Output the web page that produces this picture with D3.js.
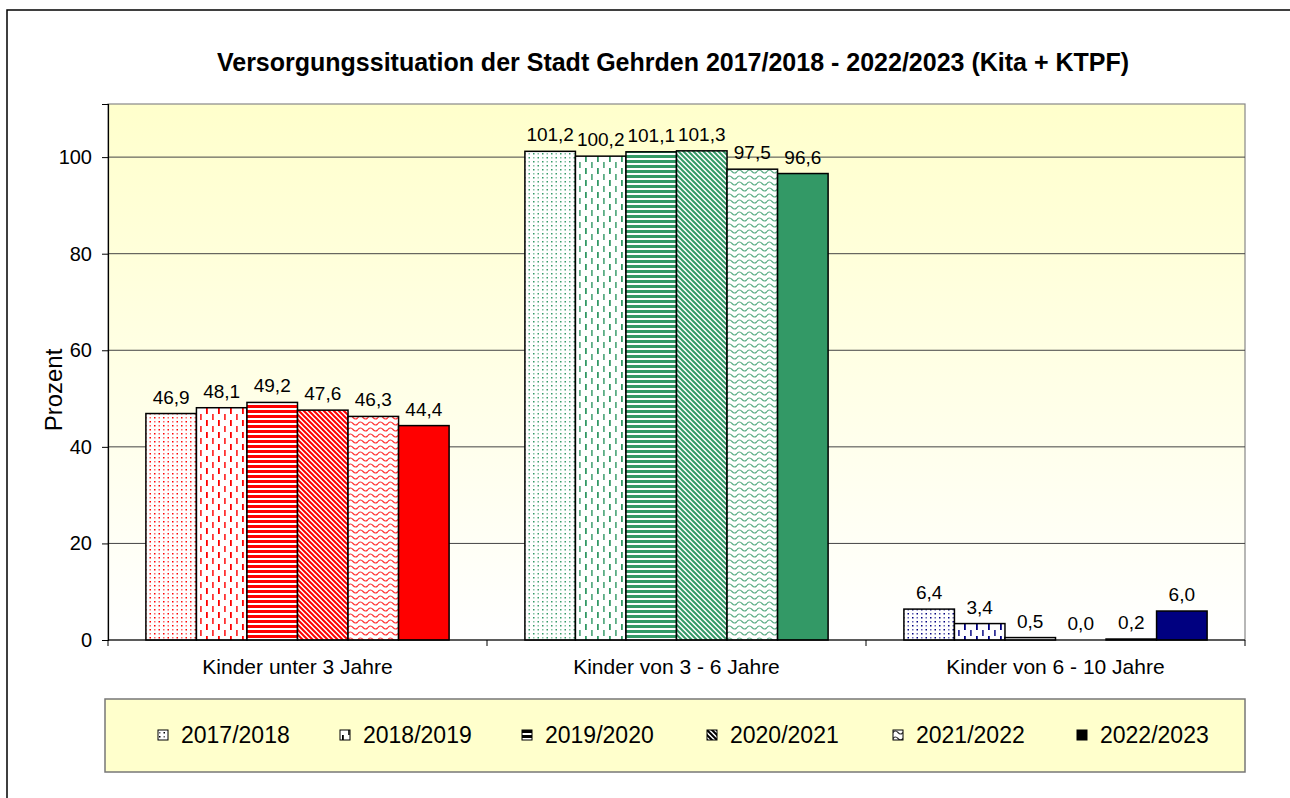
<!DOCTYPE html>
<html><head><meta charset="utf-8">
<script src="https://cdn.jsdelivr.net/npm/d3@7"></script>
<style>body{margin:0;background:#fff}svg{display:block;font-family:"Liberation Sans",Arial,sans-serif}</style>
</head><body><svg id="c" width="1290" height="798"></svg>
<script>
const categories = ["Kinder unter 3 Jahre", "Kinder von 3 - 6 Jahre", "Kinder von 6 - 10 Jahre"];
const seriesNames = ["2017/2018", "2018/2019", "2019/2020", "2020/2021", "2021/2022", "2022/2023"];
const values2017 = [46.9, 101.2, 6.4];
const values2018 = [48.1, 100.2, 3.4];
const values2019 = [49.2, 101.1, 0.5];
const values2020 = [47.6, 101.3, 0.0];
const values2021 = [46.3, 97.5, 0.2];
const values2022 = [44.4, 96.6, 6.0];
const yTicks = [0, 20, 40, 60, 80, 100];
const categoryColors = ["#FF0000", "#339966", "#000080"];
const patternTypes = ["dots", "vdash", "hstripe", "diag", "wave", "solid"];
const titleText = "Versorgungssituation der Stadt Gehrden 2017/2018 - 2022/2023 (Kita + KTPF)";
const yTitle = "Prozent";

const seriesValues = [values2017, values2018, values2019, values2020, values2021, values2022];
const svg = d3.select("#c");
const defs = svg.append("defs");
const L = 108, R = 1245, T = 104, B = 640;

const grad = defs.append("linearGradient").attr("id","bg").attr("x1",0).attr("y1",0).attr("x2",0).attr("y2",1);
grad.append("stop").attr("offset","0%").attr("stop-color","#FFFFCC");
grad.append("stop").attr("offset","100%").attr("stop-color","#FFFFFF");

function makePattern(id, type, color) {
  const p = defs.append("pattern").attr("id", id).attr("patternUnits","userSpaceOnUse");
  if (type === "dots") {
    p.attr("width",9).attr("height",8);
    p.append("rect").attr("width",9).attr("height",8).attr("fill","#fff");
    [[1,1,1],[5.5,1,0.6],[1,5,0.6],[5.5,5,1]].forEach(([x,y,o])=>p.append("rect").attr("x",x).attr("y",y).attr("width",1.5).attr("height",1.5).attr("fill",color).attr("opacity",o));
  } else if (type === "vdash") {
    p.attr("width",12).attr("height",12);
    p.append("rect").attr("width",12).attr("height",12).attr("fill","#fff");
    p.append("rect").attr("x",2).attr("y",0).attr("width",1.8).attr("height",6).attr("fill",color);
    p.append("rect").attr("x",8).attr("y",6).attr("width",1.8).attr("height",6).attr("fill",color).attr("opacity",0.8);
  } else if (type === "hstripe") {
    p.attr("width",10).attr("height",5);
    p.append("rect").attr("width",10).attr("height",5).attr("fill","#fff");
    p.append("rect").attr("y",0).attr("width",10).attr("height",3).attr("fill",color);
  } else if (type === "diag") {
    p.attr("width",5).attr("height",5);
    p.append("rect").attr("width",5).attr("height",5).attr("fill","#fff");
    p.append("path").attr("d","M-1,-1L6,6M-3.5,1.5L1.5,6.5M1.5,-3.5L6.5,1.5").attr("stroke",color).attr("stroke-width",2);
  } else if (type === "wave") {
    p.attr("width",10).attr("height",6);
    p.append("rect").attr("width",10).attr("height",6).attr("fill","#fff");
    p.append("path").attr("d","M0,3.5 Q2.5,0.5 5,3.5 T10,3.5").attr("fill","none").attr("stroke",color).attr("stroke-width",1.2).attr("opacity",0.8);
  } else {
    p.attr("width",4).attr("height",4);
    p.append("rect").attr("width",4).attr("height",4).attr("fill",color);
  }
}
categoryColors.forEach((c,ci)=>patternTypes.forEach((t,si)=>makePattern(`p${ci}_${si}`, t, c)));
patternTypes.forEach((t,si)=>makePattern(`leg_${si}`, t, "#000"));

svg.append("path").attr("d","M7,798V10H1290").attr("fill","none").attr("stroke","#000").attr("stroke-width",1.5);

svg.append("text").attr("x",673).attr("y",71).attr("text-anchor","middle")
  .attr("font-size",25).attr("font-weight","bold").text(titleText);

const y = d3.scaleLinear().domain([0,111]).range([B,T]);
const x0 = d3.scaleBand().domain(categories).range([L,R]);
const bw = x0.bandwidth();
const x1 = d3.scaleBand().domain(seriesNames).range([bw*0.1, bw*0.9]);

svg.append("rect").attr("x",L).attr("y",T).attr("width",R-L).attr("height",B-T)
  .attr("fill","url(#bg)").attr("stroke","#888").attr("stroke-width",1.2);

svg.append("g").selectAll("line").data(yTicks.filter(d=>d>0)).join("line")
  .attr("x1",L).attr("x2",R).attr("y1",d=>y(d)).attr("y2",d=>y(d))
  .attr("stroke","#444").attr("stroke-width",1);

const yAxis = svg.append("g").attr("transform",`translate(${L},0)`)
  .call(d3.axisLeft(y).tickValues(yTicks).tickSize(6).tickPadding(10).tickFormat(d3.format("d")));
yAxis.select(".domain").attr("stroke","#000").attr("stroke-width",1.2);
yAxis.selectAll(".tick line").attr("stroke","#000");
yAxis.selectAll("text").attr("font-size",20).attr("font-family","Liberation Sans, Arial").attr("fill","#000");

svg.append("text").attr("transform",`translate(62,390) rotate(-90)`).attr("text-anchor","middle")
  .attr("font-size",24).text(yTitle);

const fmt = v => d3.format(".1f")(v).replace(".", ",");
const gCat = svg.append("g").selectAll("g").data(categories).join("g")
  .attr("transform",d=>`translate(${x0(d)},0)`);
gCat.each(function(cat, ci){
  const g = d3.select(this);
  seriesNames.forEach((s, si) => {
    const v = seriesValues[si][ci];
    if (v > 0) {
      g.append("rect").attr("x",x1(s)).attr("width",x1.bandwidth())
        .attr("y",y(v)).attr("height",B - y(v))
        .attr("fill",`url(#p${ci}_${si})`).attr("stroke","#000").attr("stroke-width",1.5);
    }
    g.append("text").attr("x",x1(s)+x1.bandwidth()/2).attr("y",y(v)-10)
      .attr("text-anchor","middle").attr("font-size",19).text(fmt(v));
  });
});

svg.append("line").attr("x1",L).attr("x2",R).attr("y1",B).attr("y2",B).attr("stroke","#000").attr("stroke-width",1.2);
const bounds = [L, ...categories.map(c=>x0(c)+bw)];
svg.append("g").selectAll("line").data(bounds).join("line")
  .attr("x1",d=>d).attr("x2",d=>d).attr("y1",B).attr("y2",B+6).attr("stroke","#000");
svg.append("g").selectAll("text").data(categories).join("text")
  .attr("x",d=>x0(d)+bw/2).attr("y",B+34).attr("text-anchor","middle")
  .attr("font-size",21).text(d=>d);

svg.append("rect").attr("x",105).attr("y",699).attr("width",1140).attr("height",73)
  .attr("fill","#FFFFCC").attr("stroke","#777").attr("stroke-width",1.5);
const legX = [158, 340, 522, 707, 893, 1077];
const lg = svg.append("g").selectAll("g").data(seriesNames).join("g")
  .attr("transform",(d,i)=>`translate(${legX[i]},735)`);
lg.append("rect").attr("x",0).attr("y",-5).attr("width",10).attr("height",10)
  .attr("fill",(d,i)=>`url(#leg_${i})`).attr("stroke","#000").attr("stroke-width",1);
lg.append("text").attr("x",23).attr("y",8).attr("font-size",23).text(d=>d);
</script></body></html>
